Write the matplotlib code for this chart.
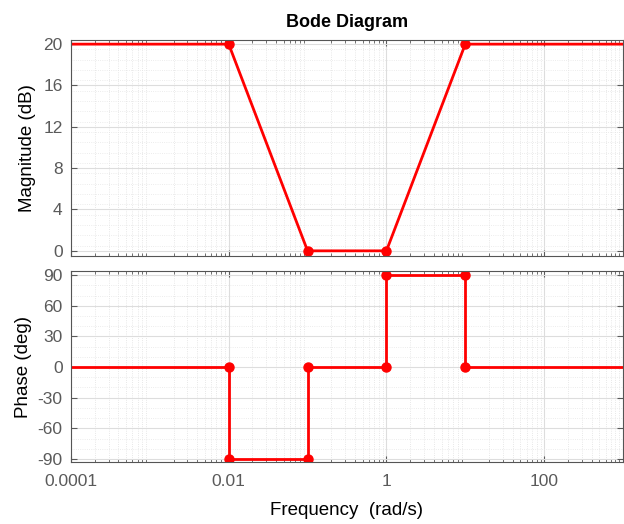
import numpy as np
import matplotlib.pyplot as plt
from matplotlib.ticker import FixedLocator, LogLocator, NullFormatter

plt.rcParams['font.family'] = ['Liberation Sans', 'DejaVu Sans']
plt.rcParams['axes.unicode_minus'] = False

# asymptotic bode data
mag_w = [1e-4, 0.01, 0.1, 1, 10, 1e3]
mag_db = [20, 20, 0, 0, 20, 20]
mag_pts_w = [0.01, 0.1, 1, 10]
mag_pts_db = [20, 0, 0, 20]

ph_w = [1e-4, 0.01, 0.01, 0.1, 0.1, 1, 1, 10, 10, 1e3]
ph_deg = [0, 0, -90, -90, 0, 0, 90, 90, 0, 0]
ph_pts_w = [0.01, 0.01, 0.1, 0.1, 1, 1, 10, 10]
ph_pts_deg = [0, -90, -90, 0, 0, 90, 90, 0]

xticks = [1e-4, 1e-2, 1, 100]
xticklabels = ['0.0001', '0.01', '1', '100']
mag_ticks = [0, 4, 8, 12, 16, 20]
ph_ticks = [-90, -60, -30, 0, 30, 60, 90]

fig = plt.figure(figsize=(6.24, 5.24), dpi=100)
ax1 = fig.add_axes([71/624, 1-256/524, 552/624, 216/524])
ax2 = fig.add_axes([71/624, 1-462/524, 552/624, 191/524])

grey = '#5a5a5a'
for ax in (ax1, ax2):
    ax.set_xscale('log')
    ax.set_xlim(1e-4, 1e3)
    ax.xaxis.set_major_locator(FixedLocator(xticks))
    ax.xaxis.set_minor_locator(LogLocator(base=10, subs=np.arange(2, 10)))
    ax.xaxis.set_minor_formatter(NullFormatter())
    ax.grid(True, which='major', color='#dddddd', lw=0.8)
    ax.grid(True, which='minor', axis='x', color='#e0e0e0', lw=0.6, ls=':')
    ax.tick_params(which='both', direction='in', top=True, right=True,
                   colors=grey, labelsize=12.5)
    ax.tick_params(which='minor', length=2.5)
    ax.tick_params(which='major', length=4)
    ax.tick_params(axis='y', which='major', pad=6)
    ax.tick_params(axis='x', which='major', pad=9)
    for s in ax.spines.values():
        s.set_color('#555555')
        s.set_linewidth(0.8)
    ax.set_axisbelow(True)

# minor y dotted grid
for ax, mn in ((ax1, np.arange(-0.5, 20.5, 1)), (ax2, np.arange(-90, 91, 10))):
    ax.set_yticks(mn, minor=True)
    ax.grid(True, which='minor', axis='y', color='#e6e6e6', lw=0.6, ls=':')
    ax.tick_params(axis='y', which='minor', length=0)

ax1.plot(mag_w, mag_db, color='red', lw=2)
ax1.plot(mag_pts_w, mag_pts_db, 'o', color='red', ms=6.5)
ax1.set_ylim(-0.5, 20.4)
ax1.set_yticks(mag_ticks)
ax1.set_xticklabels([])
ax1.set_ylabel('Magnitude (dB)', fontsize=13.5, labelpad=5)
ax1.set_title('Bode Diagram', fontsize=13, fontweight='bold', pad=9)

ax2.plot(ph_w, ph_deg, color='red', lw=2)
ax2.plot(ph_pts_w, ph_pts_deg, 'o', color='red', ms=6.5)
ax2.set_ylim(-93, 94)
ax2.set_yticks(ph_ticks)
ax2.set_xticklabels(xticklabels)
ax2.set_ylabel('Phase (deg)', fontsize=13.5, labelpad=4)
ax2.set_xlabel('Frequency  (rad/s)', fontsize=13.5, labelpad=9)

fig.savefig('out.png', dpi=100)
